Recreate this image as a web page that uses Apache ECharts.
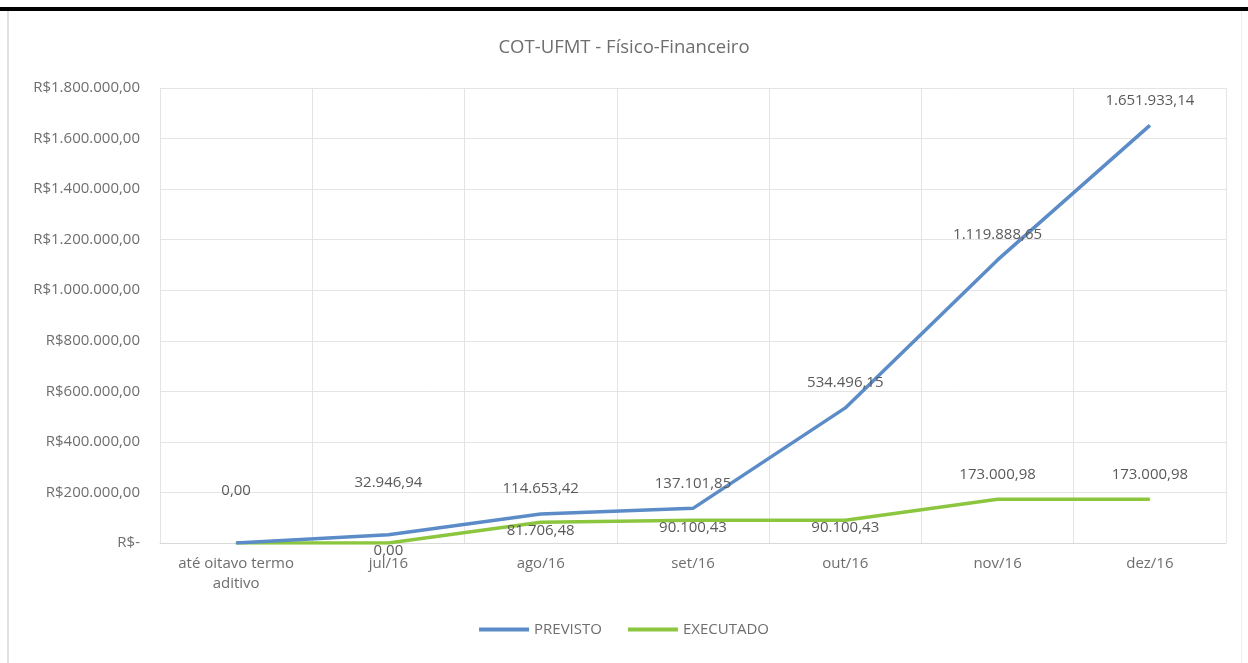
<!DOCTYPE html>
<html>
<head>
<meta charset="utf-8">
<script src="https://cdn.jsdelivr.net/npm/echarts@6/dist/echarts.min.js"></script>
<style>
	html, body { margin: 0; padding: 0; background: #fff; }
	#frame { position: absolute; left: 0; top: 0; width: 1248px; height: 663px; }
	#topbar { position: absolute; left: 0; top: 7px; width: 1248px; height: 4px; background: #000; }
	#leftline { position: absolute; left: 7px; top: 11px; width: 2px; height: 652px; background: #e2e2e2; }
	#rightline { position: absolute; left: 1241px; top: 11px; width: 1px; height: 652px; background: #eeeeee; }
	#chart { position: absolute; left: 0; top: 0; width: 1248px; height: 663px; }
</style>
</head>
<body>
<div id="frame">
	<div id="chart"></div>
	<div id="topbar"></div>
	<div id="leftline"></div>
	<div id="rightline"></div>
</div>
<script>
const categories = ['até oitavo termo\naditivo', 'jul/16', 'ago/16', 'set/16', 'out/16', 'nov/16', 'dez/16'];
const previsto = [0, 32946.94, 114653.42, 137101.85, 534496.15, 1119888.65, 1651933.14];
const executado = [0, 0, 81706.48, 90100.43, 90100.43, 173000.98, 173000.98];

const fontFamily = '"Open Sans", "Noto Sans", sans-serif';
const textColor = '#6e6e6e';

// 1651933.14 -> "1.651.933,14"
function fmtBR(v) {
	const parts = v.toFixed(2).split('.');
	const intPart = parts[0].replace(/\B(?=(\d{3})+(?!\d))/g, '.');
	return intPart + ',' + parts[1];
}

// label placement tweaks, taken from how the labels sit in the picture
const previstoLabel = (i) => {
	if (i <= 1) return { position: 'top', distance: 44 };
	return { position: 'top', distance: 17 };
};
const executadoLabel = (i) => {
	if (i === 0) return { show: false };
	if (i >= 5) return { position: 'top', distance: 17 };
	return { position: 'bottom', distance: 0 };
};

const chart = echarts.init(document.getElementById('chart'));

const option = {
	animation: false,
	backgroundColor: 'transparent',
	title: {
		text: 'COT-UFMT - Físico-Financeiro',
		left: 'center',
		top: 33,
		textStyle: { color: textColor, fontSize: 18.5, fontWeight: 'normal', fontFamily },
	},
	legend: {
		bottom: 21,
		left: 'center',
		icon: 'rect',
		itemWidth: 50,
		itemHeight: 4,
		itemGap: 26,
		textStyle: { color: textColor, fontSize: 15, fontFamily },
		data: ['PREVISTO', 'EXECUTADO'],
	},
	grid: {
		left: 160,
		right: 22,
		top: 88,
		bottom: 120,
	},
	xAxis: {
		type: 'category',
		boundaryGap: true,
		data: categories,
		axisLine: { lineStyle: { color: '#d9d9d9', width: 1 } },
		axisTick: { show: false },
		splitLine: { show: true, lineStyle: { color: '#e4e4e4', width: 1 } },
		axisLabel: {
			color: textColor,
			fontSize: 15,
			fontFamily,
			margin: 11,
			lineHeight: 20,
			interval: 0,
		},
	},
	yAxis: {
		type: 'value',
		min: 0,
		max: 1800000,
		interval: 200000,
		axisLine: { show: false },
		axisTick: { show: false },
		splitLine: { lineStyle: { color: '#e4e4e4', width: 1 } },
		axisLabel: {
			color: textColor,
			fontSize: 15,
			fontFamily,
			margin: 20,
			formatter: (v) => (v === 0 ? 'R$-' : 'R$' + fmtBR(v)),
		},
	},
	series: [
		{
			name: 'PREVISTO',
			type: 'line',
			symbol: 'circle',
			symbolSize: 1,
			showSymbol: true,
			lineStyle: { color: '#5b8cc8', width: 3.5 },
			itemStyle: { color: '#5b8cc8' },
			label: { show: true, color: '#5a5a5a', fontSize: 15, fontFamily, formatter: (p) => fmtBR(p.value) },
			data: previsto.map((v, i) => ({ value: v, label: previstoLabel(i) })),
			z: 3,
		},
		{
			name: 'EXECUTADO',
			type: 'line',
			symbol: 'circle',
			symbolSize: 1,
			showSymbol: true,
			lineStyle: { color: '#8cc63f', width: 3.5 },
			itemStyle: { color: '#8cc63f' },
			label: { show: true, color: '#5a5a5a', fontSize: 15, fontFamily, formatter: (p) => fmtBR(p.value) },
			data: executado.map((v, i) => ({ value: v, label: executadoLabel(i) })),
			z: 2,
		},
	],
};

chart.setOption(option);
</script>
</body>
</html>
